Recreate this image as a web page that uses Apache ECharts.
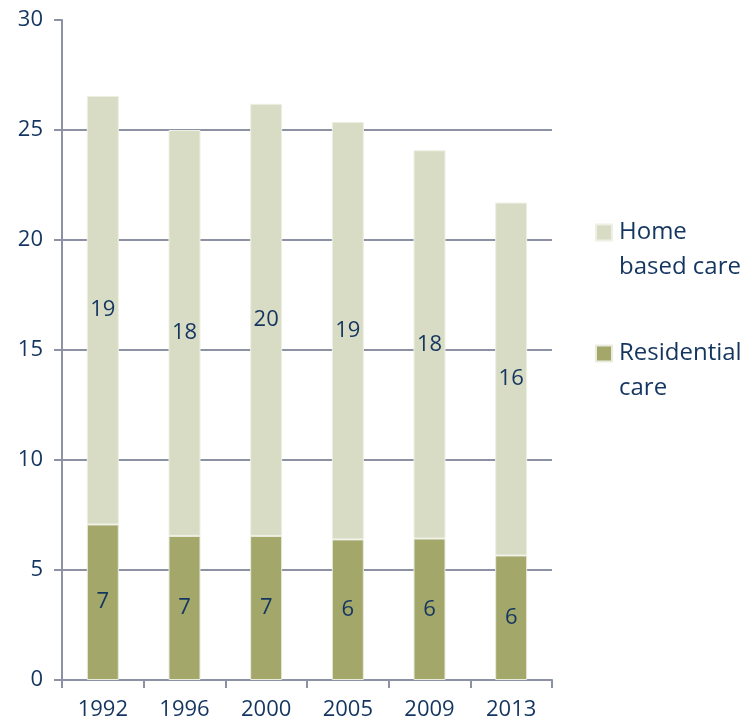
<!DOCTYPE html>
<html>
<head>
<meta charset="utf-8">
<script src="https://cdn.jsdelivr.net/npm/echarts@6/dist/echarts.min.js"></script>
<style>html,body{margin:0;padding:0;background:#fff}#c{width:753px;height:726px}</style>
</head>
<body>
<div id="c"></div>
<script>
var years = ['1992', '1996', '2000', '2005', '2009', '2013'];
var residentialCare = [7.07, 6.55, 6.55, 6.39, 6.43, 5.66];
var homeBasedCare = [19.48, 18.45, 19.64, 18.98, 17.65, 16.04];
var yTicks = [0, 5, 10, 15, 20, 25, 30];

var FONT = 'Open Sans';
var NAVY = '#14355F';
var AXIS = '#8C91A4';

var legendText = {
  'Home based care': '\nHome\nbased care',
  'Residential care': '\nResidential\ncare'
};

var chart = echarts.init(document.getElementById('c'), null, {renderer: 'canvas'});
chart.setOption({
  animation: false,
  backgroundColor: '#ffffff',
  grid: {left: 62, right: 201, top: 20, bottom: 46, containLabel: false},
  legend: {
    data: ['Home based care', 'Residential care'],
    orient: 'vertical',
    left: 595,
    top: 180,
    padding: 0,
    itemGap: 16,
    itemWidth: 16,
    itemHeight: 16,
    icon: 'rect',
    formatter: function (n) { return legendText[n]; },
    textStyle: {fontFamily: FONT, fontSize: 24, color: NAVY, lineHeight: 35, padding: [0, 0, 0, 2]}
  },
  xAxis: {
    type: 'category',
    data: years,
    boundaryGap: true,
    axisLine: {lineStyle: {color: AXIS, width: 2}},
    axisTick: {show: true, length: 8, lineStyle: {color: AXIS, width: 2}},
    axisLabel: {fontFamily: FONT, fontSize: 22, color: NAVY, margin: 19}
  },
  yAxis: {
    type: 'value',
    min: yTicks[0],
    max: yTicks[yTicks.length - 1],
    interval: 5,
    axisLine: {show: true, lineStyle: {color: AXIS, width: 2}},
    axisTick: {show: true, length: 8, lineStyle: {color: AXIS, width: 2}},
    axisLabel: {fontFamily: FONT, fontSize: 22, color: NAVY, margin: 19},
    splitLine: {show: true, showMaxLine: false, lineStyle: {color: AXIS, width: 2}}
  },
  series: [
    {
      name: 'Residential care',
      type: 'bar',
      stack: 'total',
      barWidth: 32,
      data: residentialCare,
      itemStyle: {color: '#A3A86A', borderColor: '#E9EBDD', borderWidth: 1},
      label: {show: true, position: 'inside', fontFamily: FONT, fontSize: 22, color: NAVY,
        formatter: function (p) { return Math.round(p.value); }}
    },
    {
      name: 'Home based care',
      type: 'bar',
      stack: 'total',
      barWidth: 32,
      data: homeBasedCare,
      itemStyle: {color: '#D9DCC4', borderColor: '#EEF0E4', borderWidth: 1},
      label: {show: true, position: 'inside', fontFamily: FONT, fontSize: 22, color: NAVY,
        formatter: function (p) { return Math.round(p.value); }}
    }
  ]
});
</script>
</body>
</html>
